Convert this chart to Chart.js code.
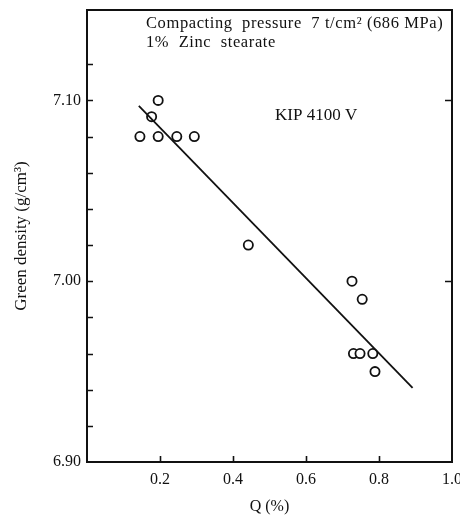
<!DOCTYPE html>
<html>
<head>
<meta charset="utf-8">
<script src="https://cdn.jsdelivr.net/npm/chart.js@4.4.1/dist/chart.umd.min.js"></script>
<style>
  html, body { margin: 0; padding: 0; background: #fff; }
  #densityChart { display: block; }
</style>
</head>
<body>
<canvas id="densityChart" width="460" height="522"></canvas>
<script>
// measured points, Q (%) vs green density (g/cm3)
var qPercent = [0.145, 0.195, 0.246, 0.294, 0.195, 0.177, 0.442, 0.726, 0.754, 0.730, 0.748, 0.783, 0.789];
var greenDensity = [7.08, 7.08, 7.08, 7.08, 7.10, 7.091, 7.02, 7.00, 6.99, 6.96, 6.96, 6.96, 6.95];

// fitted straight line
var fitQ = [0.142, 0.892];
var fitDensity = [7.097, 6.941];

var xTickLabels = [0.2, 0.4, 0.6, 0.8, 1.0];
var yTickLabels = [6.90, 7.00, 7.10];
var yRightTicks = [7.00, 7.10];

var serif = '"Liberation Serif", "DejaVu Serif", serif';
var ink = '#111';

function toPoints(xs, ys) {
    return xs.map(function (x, i) { return { x: x, y: ys[i] }; });
}

function isLabelled(list, v) {
    return list.some(function (t) { return Math.abs(t - v) < 1e-6; });
}

function noScalePadding(scale) {
    scale.paddingLeft = 0;
    scale.paddingRight = 0;
    scale.paddingTop = 0;
    scale.paddingBottom = 0;
}

// frame, inward ticks and the text notes
var framePlugin = {
    id: 'frame',
    afterDraw: function (chart) {
        var ctx = chart.ctx;
        var a = chart.chartArea;
        var xs = chart.scales.x;
        var ys = chart.scales.y;
        ctx.save();
        ctx.strokeStyle = ink;
        ctx.lineWidth = 2;
        ctx.strokeRect(a.left, a.top, a.right - a.left, a.bottom - a.top);

        ctx.lineWidth = 1.6;
        ctx.beginPath();
        ys.ticks.forEach(function (t) {
            if (t.value <= 6.9 + 1e-6 || t.value >= 7.15 - 1e-6) return;
            var py = Math.round(ys.getPixelForValue(t.value)) + 0.5;
            ctx.moveTo(a.left, py);
            ctx.lineTo(a.left + 6, py);
        });
        yRightTicks.forEach(function (v) {
            var py = Math.round(ys.getPixelForValue(v)) + 0.5;
            ctx.moveTo(a.right, py);
            ctx.lineTo(a.right - 7, py);
        });
        xTickLabels.forEach(function (v) {
            if (v >= 1) return;
            var px = Math.round(xs.getPixelForValue(v)) + 0.5;
            ctx.moveTo(px, a.bottom);
            ctx.lineTo(px, a.bottom - 6);
        });
        ctx.stroke();

        ctx.fillStyle = ink;
        ctx.textBaseline = 'alphabetic';
        ctx.textAlign = 'left';
        ctx.font = '16.5px ' + serif;
        ctx.letterSpacing = '0.6px';
        ctx.fillText('Compacting  pressure  7 t/cm² (686 MPa)', a.left + 59, a.top + 18);
        ctx.fillText('1%  Zinc  stearate', a.left + 59, a.top + 37);
        ctx.letterSpacing = '0px';
        ctx.font = '17px ' + serif;
        ctx.fillText('KIP 4100 V', a.left + 188, a.top + 110);
        ctx.restore();
    }
};

document.addEventListener('DOMContentLoaded', function () {
    var ctx = document.getElementById('densityChart').getContext('2d');
    var densityChart = new Chart(ctx, {
        type: 'scatter',
        data: {
            datasets: [{
                label: 'KIP 4100 V',
                data: toPoints(qPercent, greenDensity),
                pointStyle: 'circle',
                pointRadius: 4.6,
                pointBorderWidth: 1.8,
                pointBackgroundColor: '#fff',
                pointBorderColor: ink,
                order: 2
            }, {
                label: 'fit',
                data: toPoints(fitQ, fitDensity),
                showLine: true,
                borderColor: ink,
                borderWidth: 1.8,
                pointRadius: 0,
                order: 1
            }]
        },
        plugins: [framePlugin],
        options: {
            responsive: false,
            animation: false,
            devicePixelRatio: 1,
            layout: {
                padding: { top: 10, right: 8, left: 0, bottom: 0 }
            },
            plugins: {
                legend: { display: false },
                tooltip: { enabled: false }
            },
            scales: {
                x: {
                    type: 'linear',
                    min: 0,
                    max: 1,
                    afterFit: function (scale) {
                        scale.height = 60;
                        noScalePadding(scale);
                    },
                    grid: { display: false, drawTicks: false },
                    border: { display: false },
                    ticks: {
                        stepSize: 0.2,
                        padding: 8,
                        color: ink,
                        font: { family: serif, size: 16 },
                        callback: function (v) {
                            return isLabelled(xTickLabels, v) ? v.toFixed(1) : '';
                        }
                    },
                    title: {
                        display: true,
                        text: 'Q (%)',
                        color: ink,
                        font: { family: serif, size: 16 },
                        padding: { top: 0, bottom: 6 }
                    }
                },
                y: {
                    type: 'linear',
                    min: 6.90,
                    max: 7.15,
                    afterFit: function (scale) {
                        scale.width = 87;
                        noScalePadding(scale);
                    },
                    grid: { display: false, drawTicks: false },
                    border: { display: false },
                    ticks: {
                        stepSize: 0.02,
                        padding: 6,
                        autoSkip: false,
                        color: ink,
                        font: { family: serif, size: 16 },
                        callback: function (v) {
                            return isLabelled(yTickLabels, v) ? v.toFixed(2) : '';
                        }
                    },
                    title: {
                        display: true,
                        text: 'Green density (g/cm³)',
                        color: ink,
                        font: { family: serif, size: 17 },
                        padding: { top: 11, bottom: 11 }
                    }
                }
            }
        }
    });
});
</script>
</body>
</html>
